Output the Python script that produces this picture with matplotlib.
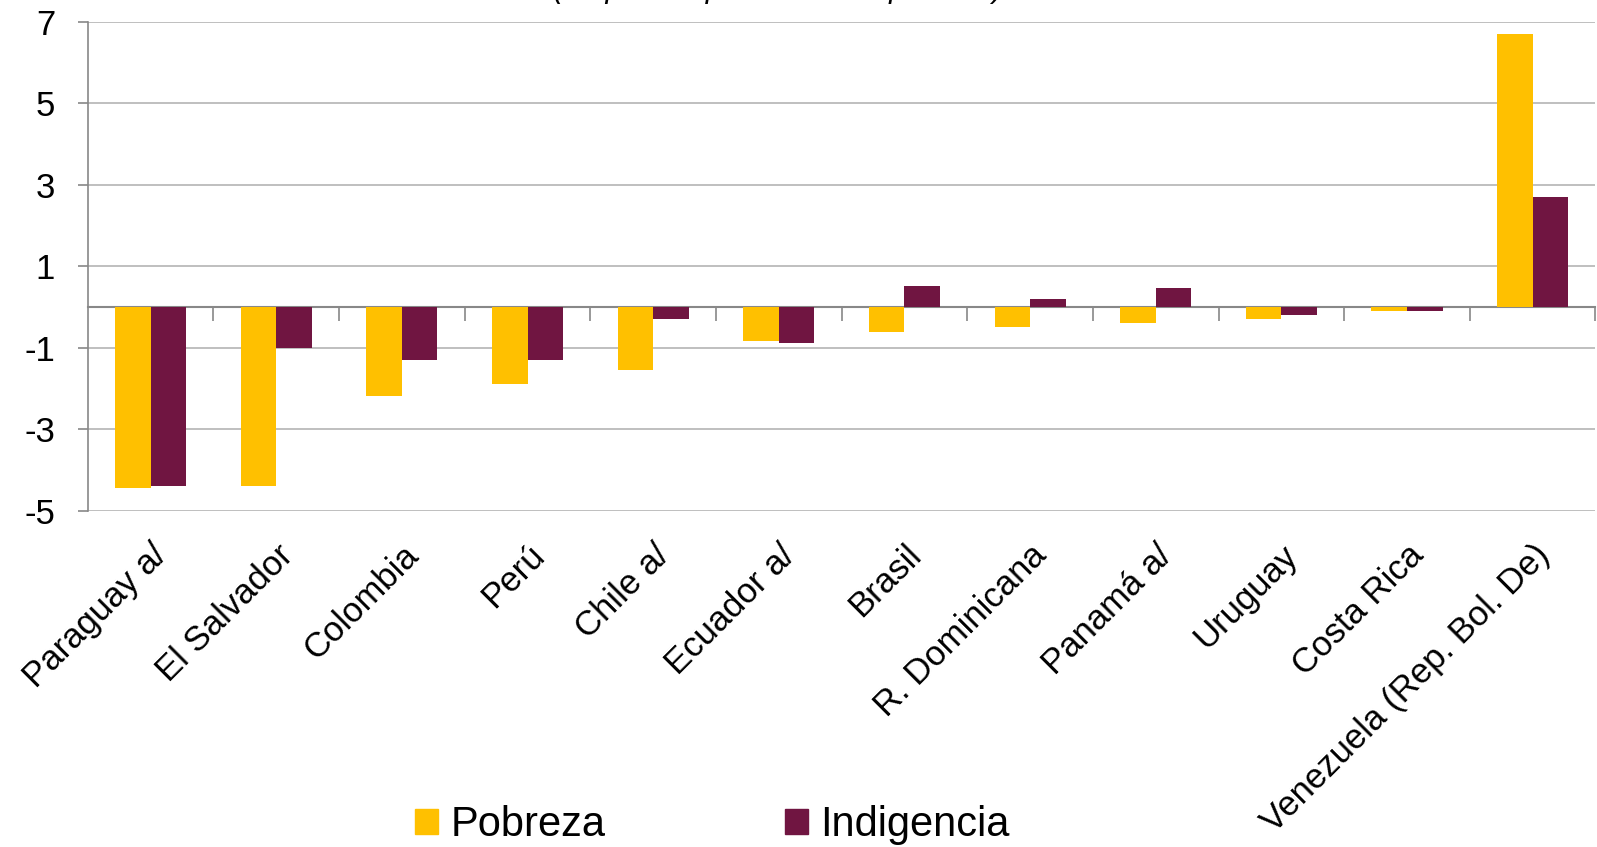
import numpy as np
import matplotlib
matplotlib.use("Agg")
import matplotlib.pyplot as plt
from matplotlib.patches import Patch

plt.rcParams["font.family"] = ["Liberation Sans", "DejaVu Sans"]
plt.rcParams["axes.unicode_minus"] = False

# Variacion anual (puntos porcentuales)
paises = ["Paraguay a/", "El Salvador", "Colombia", "Perú", "Chile a/", "Ecuador a/",
          "Brasil", "R. Dominicana", "Panamá a/", "Uruguay", "Costa Rica",
          "Venezuela (Rep. Bol. De)"]
pobreza = [-4.43, -4.39, -2.19, -1.90, -1.54, -0.84, -0.62, -0.50, -0.40, -0.29, -0.09, 6.70]
indigencia = [-4.39, -1.00, -1.29, -1.29, -0.29, -0.88, 0.52, 0.20, 0.46, -0.19, -0.09, 2.70]
y_ticks = [-5, -3, -1, 1, 3, 5, 7]

amarillo = "#FFC000"
granate = "#701541"

fig = plt.figure(figsize=(15.97, 8.47), dpi=100)
ax = fig.add_axes([0.055, 0.397, 0.944, 0.577])

x = np.arange(len(paises))
w = 0.283
ax.bar(x - w / 2, pobreza, w, color=amarillo, zorder=3)
ax.bar(x + w / 2, indigencia, w, color=granate, zorder=3)

ax.set_xlim(-0.5, len(paises) - 0.5)
ax.set_ylim(-5, 7)
ax.set_yticks(y_ticks)
ax.yaxis.grid(True, color="#BFBFBF", linewidth=1.4, zorder=0)
ax.tick_params(axis="y", labelsize=25, length=7.5, width=1.2, color="#888888", pad=16)

# category labels under the plot area
ax.set_xticks(x)
ax.set_xticklabels(paises, rotation=45, ha="right", rotation_mode="anchor", fontsize=25)
ax.tick_params(axis="x", length=0, pad=20)

for s in ["top", "right", "bottom"]:
    ax.spines[s].set_visible(False)
ax.spines["left"].set_color("#888888")
ax.spines["left"].set_linewidth(1.2)

# zero axis with boundary ticks
sec = ax.secondary_xaxis(5 / 12)
sec.set_xticks(np.arange(len(paises)) + 0.5)
sec.set_xticklabels([])
sec.tick_params(direction="out", length=10, color="#888888", width=1.2)
sec.spines["bottom"].set_color("#888888")
sec.spines["bottom"].set_linewidth(1.5)

fig.text(0.487, 1.004, "(en puntos porcentuales por año)", fontsize=22,
         style="italic", ha="center", va="baseline")

handles = [Patch(color=amarillo), Patch(color=granate)]
fig.legend(handles, ["Pobreza", "Indigencia"], loc="center", bbox_to_anchor=(0.446, 0.026),
           ncol=2, frameon=False, fontsize=30, handlelength=0.55, handleheight=0.55,
           handletextpad=0.3, columnspacing=4.3)

fig.savefig("out.png", dpi=100)
